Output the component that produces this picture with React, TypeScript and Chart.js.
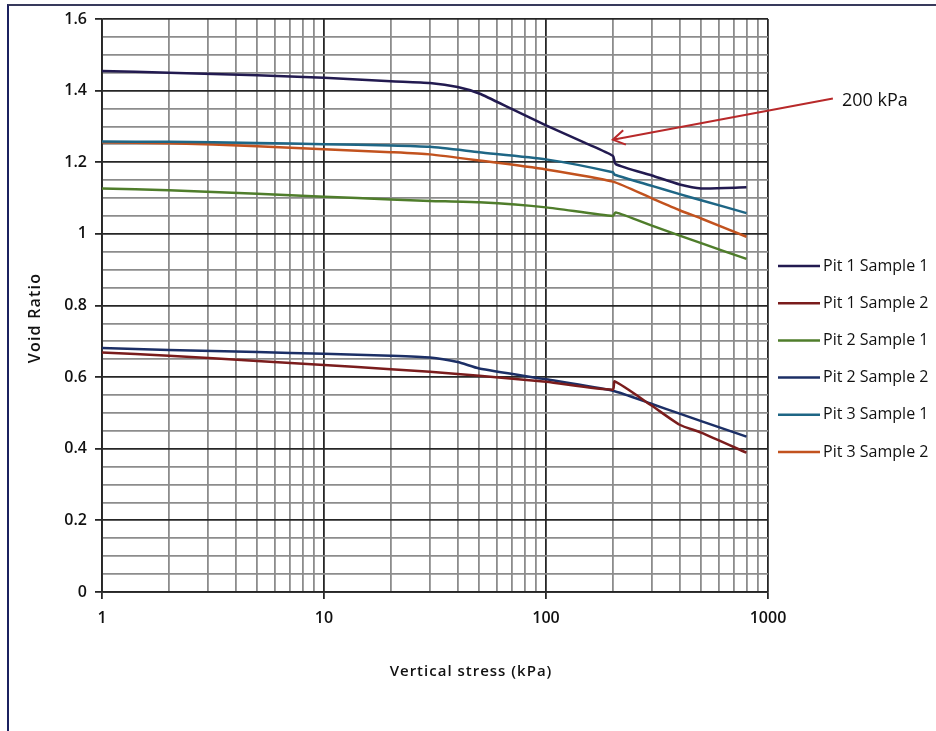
import React, { useEffect, useRef } from "react";
import { Chart, registerables } from "chart.js";

Chart.register(...registerables);

// Oedometer results: void ratio against vertical stress (kPa)
const SERIES_LABELS = [
  "Pit 1 Sample 1",
  "Pit 1 Sample 2",
  "Pit 2 Sample 1",
  "Pit 2 Sample 2",
  "Pit 3 Sample 1",
  "Pit 3 Sample 2",
];

const pit1s1Stress = [1, 2, 5, 10, 20, 30, 40, 50, 70, 100, 150, 200, 206, 300, 400, 500, 800];
const pit1s1Void = [1.455, 1.45, 1.443, 1.436, 1.426, 1.421, 1.41, 1.392, 1.349, 1.303, 1.254, 1.218, 1.195, 1.163, 1.138, 1.127, 1.13];

const pit1s2Stress = [1, 2, 5, 10, 20, 30, 50, 100, 200, 204, 300, 400, 500, 800];
const pit1s2Void = [0.669, 0.66, 0.645, 0.634, 0.622, 0.615, 0.604, 0.587, 0.565, 0.588, 0.52, 0.467, 0.445, 0.389];

const pit2s1Stress = [1, 2, 5, 10, 20, 30, 50, 100, 200, 206, 300, 400, 500, 800];
const pit2s1Void = [1.127, 1.122, 1.112, 1.104, 1.096, 1.092, 1.088, 1.074, 1.05, 1.06, 1.023, 0.995, 0.974, 0.93];

const pit2s2Stress = [1, 2, 5, 10, 20, 30, 40, 50, 100, 200, 300, 400, 500, 800];
const pit2s2Void = [0.681, 0.676, 0.67, 0.665, 0.66, 0.655, 0.642, 0.624, 0.594, 0.562, 0.525, 0.498, 0.477, 0.434];

const pit3s1Stress = [1, 2, 5, 10, 20, 30, 50, 100, 200, 204, 300, 400, 500, 800];
const pit3s1Void = [1.258, 1.257, 1.254, 1.25, 1.247, 1.243, 1.228, 1.208, 1.172, 1.165, 1.134, 1.111, 1.094, 1.058];

const pit3s2Stress = [1, 2, 5, 10, 20, 30, 50, 100, 200, 300, 400, 500, 800];
const pit3s2Void = [1.256, 1.253, 1.245, 1.236, 1.228, 1.222, 1.205, 1.18, 1.146, 1.099, 1.066, 1.043, 0.992];

const SERIES_COLORS = ["#221a50", "#7a1c1c", "#4f7d2b", "#1c2f66", "#1e6685", "#c2521e"];

// Axis ticks
const X_DECADES = [1, 10, 100];
const X_MULTIPLIERS = [1, 2, 3, 4, 5, 6, 7, 8, 9];
const X_MAX = 1000;
const Y_MIN = 0;
const Y_MAX = 1.6;
const Y_MINOR_STEP = 0.05;
const Y_MAJOR_STEP = 0.2;

const X_TITLE = "Vertical stress (kPa)";
const Y_TITLE = "Void Ratio";
const NOTE_TEXT = "200 kPa";
// Arrow from the note to the loading step at 200 kPa
const NOTE_TIP = { stress: 200, voidRatio: 1.263 };
const NOTE_TAIL = { stress: 1960, voidRatio: 1.378 };

const FONT = '"Open Sans", "DejaVu Sans", sans-serif';

const stressSets = [pit1s1Stress, pit1s2Stress, pit2s1Stress, pit2s2Stress, pit3s1Stress, pit3s2Stress];
const voidSets = [pit1s1Void, pit1s2Void, pit2s1Void, pit2s2Void, pit3s1Void, pit3s2Void];

const isDecade = (v: number) => {
  const l = Math.log10(v);
  return Math.abs(l - Math.round(l)) < 1e-9;
};
const isYMajor = (v: number) => Math.round(v * 100) % Math.round(Y_MAJOR_STEP * 100) === 0;

const overlayPlugin = {
  id: "overlay",
  afterDraw(chart: any) {
    const { ctx, scales } = chart;
    const xs = scales.x;
    const ys = scales.y;
    ctx.save();

    // axis titles
    ctx.fillStyle = "#111";
    ctx.textAlign = "center";
    ctx.textBaseline = "middle";
    ctx.font = `600 15px ${FONT}`;
    (ctx as any).letterSpacing = "1px";
    ctx.fillText(X_TITLE, 471, 672);
    ctx.save();
    ctx.translate(35, 318);
    ctx.rotate(-Math.PI / 2);
    ctx.font = `600 16px ${FONT}`;
    (ctx as any).letterSpacing = "1.2px";
    ctx.fillText(Y_TITLE, 0, 0);
    ctx.restore();
    (ctx as any).letterSpacing = "0px";

    // legend
    ctx.font = `16px ${FONT}`;
    ctx.textAlign = "left";
    chart.data.datasets.forEach((ds: any, i: number) => {
      const yy = 266 + i * 37.2;
      ctx.strokeStyle = ds.borderColor;
      ctx.lineWidth = 2.5;
      ctx.beginPath();
      ctx.moveTo(778, yy);
      ctx.lineTo(820, yy);
      ctx.stroke();
      ctx.fillStyle = "#111";
      ctx.fillText(ds.label, 823, yy);
    });

    // 200 kPa note with arrow
    const tx = xs.getPixelForValue(NOTE_TIP.stress);
    const ty = ys.getPixelForValue(NOTE_TIP.voidRatio);
    const sx = xs.getPixelForValue(NOTE_TAIL.stress);
    const sy = ys.getPixelForValue(NOTE_TAIL.voidRatio);
    ctx.strokeStyle = "#b8292a";
    ctx.lineWidth = 2;
    ctx.beginPath();
    ctx.moveTo(sx, sy);
    ctx.lineTo(tx, ty);
    const ang = Math.atan2(ty - sy, tx - sx);
    const len = 14;
    const spread = 0.55;
    ctx.moveTo(tx - len * Math.cos(ang - spread), ty - len * Math.sin(ang - spread));
    ctx.lineTo(tx, ty);
    ctx.lineTo(tx - len * Math.cos(ang + spread), ty - len * Math.sin(ang + spread));
    ctx.stroke();

    ctx.fillStyle = "#111";
    ctx.font = `18px ${FONT}`;
    ctx.textAlign = "left";
    ctx.fillText(NOTE_TEXT, 842, 101);

    ctx.restore();
  },
};

export default function App() {
  const canvasRef = useRef<HTMLCanvasElement | null>(null);

  useEffect(() => {
    const canvas = canvasRef.current;
    if (!canvas) return;

    const datasets = SERIES_LABELS.map((label, i) => ({
      label,
      data: stressSets[i].map((s, j) => ({ x: s, y: voidSets[i][j] })),
      borderColor: SERIES_COLORS[i],
      backgroundColor: SERIES_COLORS[i],
      borderWidth: 2.5,
      pointRadius: 0,
      tension: 0.2,
      fill: false,
    }));

    const xTickValues: number[] = [];
    X_DECADES.forEach((d) => X_MULTIPLIERS.forEach((m) => xTickValues.push(d * m)));
    xTickValues.push(X_MAX);

    const yCount = Math.round((Y_MAX - Y_MIN) / Y_MINOR_STEP);
    const yTickValues = Array.from({ length: yCount + 1 }, (_, i) => +(Y_MIN + i * Y_MINOR_STEP).toFixed(2));

    const chart = new Chart(canvas, {
      type: "line",
      data: { datasets },
      options: {
        animation: false,
        responsive: false,
        devicePixelRatio: 1,
        layout: { padding: { left: 0, top: 19, right: 168, bottom: 0 } },
        plugins: { legend: { display: false }, tooltip: { enabled: false } },
        scales: {
          x: {
            type: "logarithmic",
            min: 1,
            max: X_MAX,
            afterBuildTicks: (scale: any) => {
              scale.ticks = xTickValues.map((v) => ({ value: v }));
            },
            afterFit: (scale: any) => {
              scale.height = 139;
            },
            ticks: {
              autoSkip: false,
              maxRotation: 0,
              padding: 10,
              color: "#111",
              font: { family: FONT, size: 16, weight: "600" },
              callback: (v: any) => (isDecade(Number(v)) ? String(Number(v)) : ""),
            },
            grid: {
              color: (c: any) => (c.tick && isDecade(c.tick.value) ? "#262626" : "#8c8c8c"),
              lineWidth: 1.8,
              tickLength: 7,
              tickColor: (c: any) => (c.tick && isDecade(c.tick.value) ? "#262626" : "rgba(0,0,0,0)"),
            },
            border: { display: true, color: "#262626", width: 1.8 },
          },
          y: {
            type: "linear",
            min: Y_MIN,
            max: Y_MAX,
            afterBuildTicks: (scale: any) => {
              scale.ticks = yTickValues.map((v) => ({ value: v }));
            },
            afterFit: (scale: any) => {
              scale.width = 102;
            },
            ticks: {
              autoSkip: false,
              padding: 8,
              color: "#111",
              font: { family: FONT, size: 16, weight: "600" },
              callback: (v: any) => (isYMajor(Number(v)) ? String(+Number(v).toFixed(1)) : ""),
            },
            grid: {
              color: (c: any) => (c.tick && isYMajor(c.tick.value) ? "#262626" : "#8c8c8c"),
              lineWidth: 1.8,
              tickLength: 7,
              tickColor: (c: any) => (c.tick && isYMajor(c.tick.value) ? "#262626" : "rgba(0,0,0,0)"),
            },
            border: { display: true, color: "#262626", width: 1.8 },
          },
        },
      },
      plugins: [overlayPlugin],
    } as any);

    return () => chart.destroy();
  }, []);

  return (
    <div
      style={{
        position: "fixed",
        left: 0,
        top: 0,
        width: 936,
        height: 731,
        overflow: "hidden",
        background: "#fff",
      }}
    >
      <div
        style={{
          position: "absolute",
          left: 7,
          top: 4,
          width: 1000,
          height: 1000,
          borderLeft: "2px solid #1b2160",
          borderTop: "2px solid #383a5c",
        }}
      />
      <canvas
        ref={canvasRef}
        width={936}
        height={731}
        style={{ position: "absolute", left: 0, top: 0, width: 936, height: 731 }}
      />
    </div>
  );
}
